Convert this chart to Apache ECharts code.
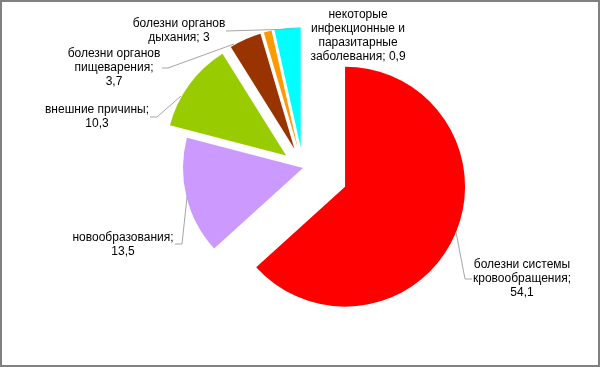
<!DOCTYPE html>
<html>
<head>
<meta charset="utf-8">
<script src="https://cdn.jsdelivr.net/npm/echarts@6/dist/echarts.min.js"></script>
<style>
html,body{margin:0;padding:0;background:#fff;}
#main{width:600px;height:367px;}
</style>
</head>
<body>
<div id="main"></div>
<script>
// Data
const categories = [
  'болезни системы\nкровообращения',
  'новообразования',
  'внешние причины',
  'болезни органов\nпищеварения',
  'некоторые\nинфекционные и\nпаразитарные\nзаболевания',
  'болезни органов\nдыхания'
];
const values = [54.1, 13.5, 10.3, 3.7, 0.9, 3];
const colors = ['#FF0000', '#CC99FF', '#99CC00', '#993300', '#FF9900', '#00FFFF'];

// Layout (not data)
const separators = ['\n', '\n', '\n', '\n', ' ', ' '];
const labelPos = [[522, 279], [123, 245], [97, 117], [114, 68], [358, 36], [179, 31]];
const leaders = [
  [[456, 232], [465, 279], [472, 279]],
  [[187, 197], [182, 244], [175, 244]],
  [[181, 96], [157, 117], [150, 117]],
  [[234, 44], [168, 68], [162, 68]],
  null,
  [[293, 29], [226, 31]]
];
const groups = [
  { idx: [0], offset: 46 },
  { idx: [1], offset: 0 },
  { idx: [2, 3, 4, 5], offset: 21 }
];

function fmt(v) { return String(v).replace('.', ','); }

const series = groups.map(function (g) {
  return {
    type: 'pie',
    center: [303, 168],
    radius: [0, 120],
    startAngle: 90,
    clockwise: true,
    selectedMode: 'multiple',
    selectedOffset: g.offset,
    silent: true,
    animation: false,
    emphasis: { scale: false, disabled: true },
    label: { show: false },
    labelLine: { show: false },
    data: categories.map(function (c, i) {
      const vis = g.idx.indexOf(i) >= 0;
      return {
        name: c,
        value: values[i],
        selected: vis && g.offset > 0,
        itemStyle: { color: colors[i], opacity: vis ? 1 : 0 }
      };
    })
  };
});

const graphics = [{
  type: 'rect',
  shape: { x: 1, y: 1, width: 598, height: 365 },
  style: { fill: 'none', stroke: '#808080', lineWidth: 2 },
  silent: true,
  z: 100
}];
categories.forEach(function (c, i) {
  graphics.push({
    type: 'text',
    x: labelPos[i][0],
    y: labelPos[i][1],
    silent: true,
    z: 50,
    style: {
      text: c + ';' + separators[i] + fmt(values[i]),
      align: 'center',
      verticalAlign: 'middle',
      fontFamily: '"Liberation Sans", Arial, sans-serif',
      fontSize: 12,
      lineHeight: 14,
      fill: '#000'
    }
  });
  if (leaders[i]) {
    graphics.push({
      type: 'polyline',
      silent: true,
      z: 50,
      shape: { points: leaders[i] },
      style: { stroke: '#a6a6a6', lineWidth: 1, fill: 'none' }
    });
  }
});

const chart = echarts.init(document.getElementById('main'), null, { renderer: 'canvas' });
chart.setOption({
  backgroundColor: '#fff',
  animation: false,
  graphic: graphics,
  series: series
});
</script>
</body>
</html>
